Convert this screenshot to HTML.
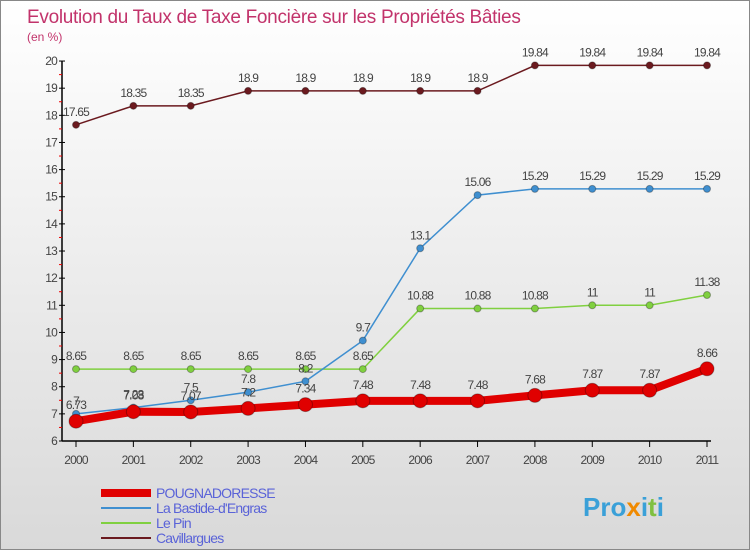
<!DOCTYPE html>
<html><head><meta charset="utf-8"><style>
body{margin:0}
#w{position:relative;width:750px;height:550px;overflow:hidden;background:linear-gradient(#fff,#d9d9d9);font-family:"Liberation Sans",sans-serif;box-sizing:border-box;border:1px solid #888}
.lab{font-size:12px;fill:#444;letter-spacing:-0.8px}
</style></head><body>
<div id="w">
<svg id="s" width="750" height="550">
<text x="26" y="22" font-size="19" fill="#c2336b" letter-spacing="-0.3">Evolution du Taux de Taxe Foncière sur les Propriétés Bâties</text>
<text x="26" y="40" font-size="12" fill="#c2336b">(en %)</text>
</svg>
</div>
<script>
const years=[2000,2001,2002,2003,2004,2005,2006,2007,2008,2009,2010,2011];
const yTicks=[6,7,8,9,10,11,12,13,14,15,16,17,18,19,20];
const pougna=[6.73,7.08,7.07,7.2,7.34,7.48,7.48,7.48,7.68,7.87,7.87,8.66];
const bastide=[7,7.23,7.5,7.8,8.2,9.7,13.1,15.06,15.29,15.29,15.29,15.29];
const lepin=[8.65,8.65,8.65,8.65,8.65,8.65,10.88,10.88,10.88,11,11,11.38];
const cavill=[17.65,18.35,18.35,18.9,18.9,18.9,18.9,18.9,19.84,19.84,19.84,19.84];
const names=["POUGNADORESSE","La Bastide-d'Engras","Le Pin","Cavillargues"];
const s=document.getElementById('s');const NS='http://www.w3.org/2000/svg';
const X=i=>75+i*(631/11);const Y=v=>440-(v-6)*27.14;
function el(t,a,p){const e=document.createElementNS(NS,t);for(const k in a)e.setAttribute(k,a[k]);(p||s).appendChild(e);return e;}
let e=el('line',{x1:61,y1:60,x2:61,y2:440,stroke:'#000','stroke-width':1.5});


e=el('line',{x1:61,y1:440,x2:710,y2:440,stroke:'#000','stroke-width':1.5});


yTicks.forEach(v=>{el('line',{x1:58,y1:Y(v),x2:64,y2:Y(v),stroke:'#000'});
if(v<20)el('line',{x1:58,y1:Y(v+0.5),x2:61,y2:Y(v+0.5),stroke:'#e00'});
const t=el('text',{x:56,y:Y(v)+4,'text-anchor':'end',class:'lab','font-size':12});t.textContent=v;

});
years.forEach((y,i)=>{el('line',{x1:X(i),y1:440,x2:X(i),y2:446,stroke:'#000'});
const t=el('text',{x:X(i),y:463,'text-anchor':'middle',class:'lab'});t.textContent=y;

});
function series(d,col,w,r,nm,dy){
const g=el('g',{});


el('polyline',{points:d.map((v,i)=>X(i)+','+Y(v)).join(' '),fill:'none',stroke:col,'stroke-width':w},g);
d.forEach((v,i)=>{const c=el('circle',{cx:X(i),cy:Y(v),r:r,fill:col,stroke:'rgba(0,0,0,0.3)'},g);


const t=el('text',{x:X(i),y:Y(v)-dy,'text-anchor':'middle',class:'lab'},g);t.textContent=v;

});}
series(cavill,'#6b1a1f',1.5,3.5,'series-cavillargues',9);
series(lepin,'#80d040',1.5,3.5,'series-le-pin',9);
series(bastide,'#3f8fd0',1.5,3.5,'series-la-bastide',9);
series(pougna,'#e00000',8,7,'series-pougnadoresse',12);
const cols=['#e00000','#3f8fd0','#80d040','#6b1a1f'],ws=[8,2,2,2];
names.forEach((n,i)=>{const y=492+i*15;
const g=el('g',{});


el('line',{x1:100,y1:y,x2:150,y2:y,stroke:cols[i],'stroke-width':ws[i]},g);
const t=el('text',{x:155,y:y+5,'font-size':14,fill:'#5a63d8','letter-spacing':-0.8},g);t.textContent=n;});
const p=el('text',{x:582,y:515,'font-size':26,'font-weight':'bold',fill:'#3aa0d8'});


[['Pro','#3aa0d8'],['x','#f08a00'],['i','#3aa0d8'],['t','#80c040'],['i','#3aa0d8']].forEach(([c,f])=>{const ts=el('tspan',{fill:f},p);ts.textContent=c;});
</script>
</body></html>
